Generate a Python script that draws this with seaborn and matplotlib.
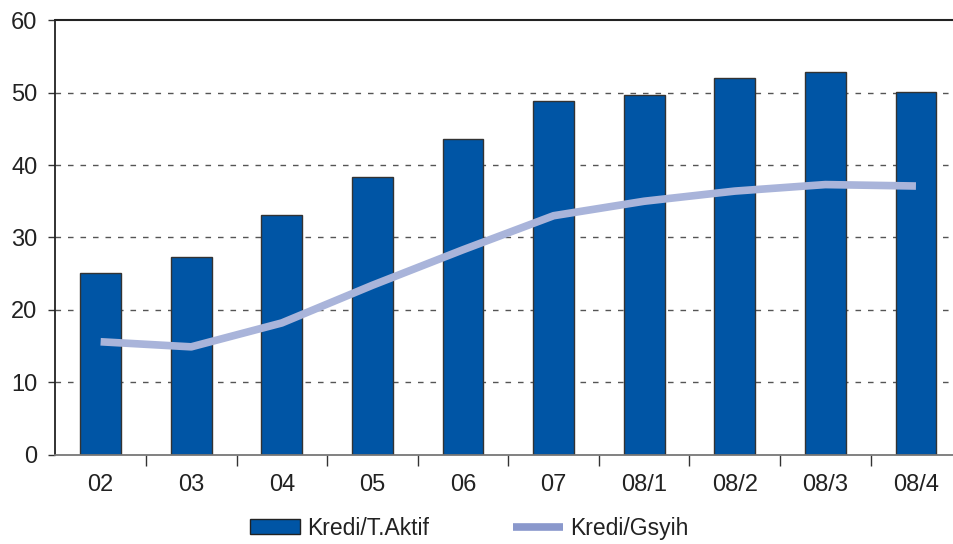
import numpy as np
import pandas as pd
import matplotlib
matplotlib.use("Agg")
import matplotlib.pyplot as plt
import seaborn as sns
from matplotlib.patches import Patch
from matplotlib.lines import Line2D
from matplotlib.ticker import FixedLocator

# === Data ===
periods = ["02", "03", "04", "05", "06", "07", "08/1", "08/2", "08/3", "08/4"]
kredi_aktif = [25.1, 27.3, 33.1, 38.4, 43.6, 48.8, 49.6, 52.0, 52.9, 50.1]
kredi_gsyih = [15.6, 14.9, 18.2, 23.4, 28.3, 33.0, 35.0, 36.4, 37.3, 37.1]

bar_color = "#0055A5"
line_color = "#A9B4DA"

sns.set_style("white")
plt.rcParams["font.family"] = ["Liberation Sans", "DejaVu Sans"]

df = pd.DataFrame({"period": periods, "aktif": kredi_aktif, "gsyih": kredi_gsyih})

fig = plt.figure(figsize=(9.54, 5.44), dpi=100)
ax = fig.add_axes([0.058, 0.164, 0.942, 0.799])

# === Bars ===
sns.barplot(data=df, x="period", y="aktif", color=bar_color, width=0.45,
            saturation=1, edgecolor="#333333", linewidth=1.0, ax=ax, zorder=2)

# === Line ===
sns.lineplot(x=np.arange(len(periods)), y=df["gsyih"], color=line_color,
             linewidth=5.5, sort=False, ax=ax, zorder=3)
for ln in ax.lines:
    ln.set_solid_capstyle("butt")
    ln.set_solid_joinstyle("round")

# === Axes styling ===
ax.set_ylim(0, 60)
ax.set_xlim(-0.5, 9.42)
ax.set_yticks(range(0, 61, 10))
ax.set_xlabel("")
ax.set_ylabel("")
for y in range(10, 60, 10):
    ax.axhline(y, color="#555555", linestyle=(0, (4, 5)), linewidth=1.0, zorder=1)
ax.axhline(60, color="#222222", linewidth=1.5, zorder=1, clip_on=False)

for side in ["top", "right"]:
    ax.spines[side].set_visible(False)
ax.spines["left"].set_color("#222222")
ax.spines["left"].set_linewidth(1.3)
ax.spines["bottom"].set_color("#777777")
ax.spines["bottom"].set_linewidth(1.3)

ax.tick_params(axis="y", left=True, length=5, width=1, color="#333333",
               labelsize=17, labelcolor="#222222", pad=8)
ax.tick_params(axis="x", which="major", bottom=False, labelsize=17,
               labelcolor="#222222", pad=10)
ax.xaxis.set_minor_locator(FixedLocator(np.arange(0.5, len(periods) - 1, 1.0)))
ax.tick_params(axis="x", which="minor", bottom=True, length=8, width=1,
               color="#333333", direction="out")

# === Legend ===
handles = [
    Patch(facecolor=bar_color, edgecolor="#222222", linewidth=1.0),
    Line2D([0], [0], color="#8A98CC", linewidth=5.5, solid_capstyle="butt"),
]
fig.legend(handles, ["Kredi/T.Aktif", "Kredi/Gsyih"], loc="lower center",
           bbox_to_anchor=(0.492, -0.03), ncol=2, frameon=False, fontsize=16.5,
           handlelength=2.2, handleheight=0.65, columnspacing=3.65,
           handletextpad=0.3, labelcolor="#222222")

fig.savefig("out.png", dpi=100)
